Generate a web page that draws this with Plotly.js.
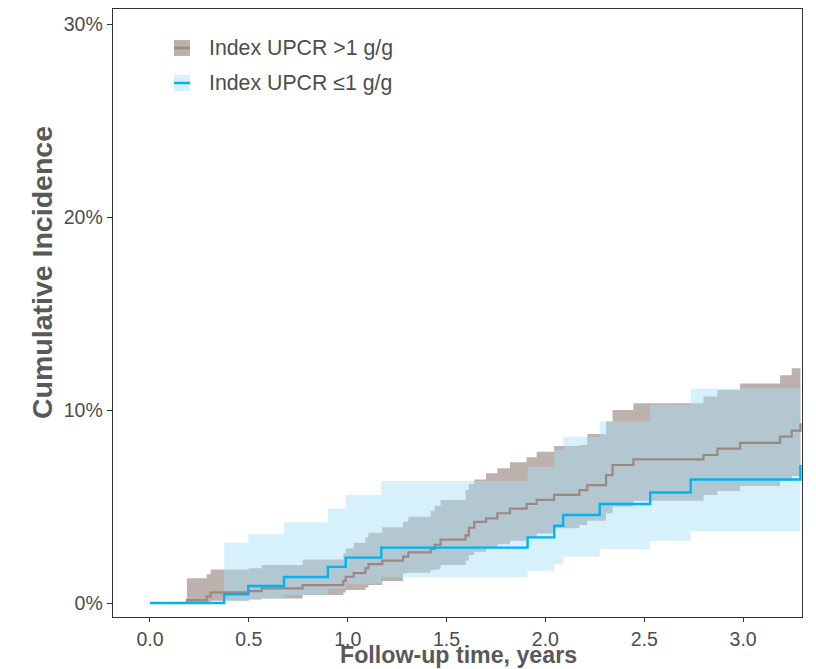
<!DOCTYPE html>
<html>
<head>
<meta charset="utf-8">
<script src="https://cdn.plot.ly/plotly-3.0.1.min.js"></script>
<style>html,body{margin:0;padding:0;background:#fff;}#chart{width:816px;height:669px;}</style>
</head>
<body>
<div id="chart"></div>
<script>
// Index UPCR <=1 g/g (blue)
const tBlue   = [0, 0.375, 0.497, 0.678, 0.90, 0.99, 1.17, 1.91, 2.045, 2.09, 2.275, 2.53, 2.735, 3.29];
const cumBlue = [0, 0.45, 0.88, 1.35, 1.87, 2.35, 2.87, 3.4, 4.0, 4.56, 5.13, 5.73, 6.4, 7.15];
const upBlue  = [0, 3.12, 3.56, 4.18, 4.9, 5.6, 6.32, 7.06, 7.93, 8.62, 9.4, 10.26, 11.12, 11.12];
const loBlue  = [0, 0.1, 0.22, 0.41, 0.76, 1.0, 1.33, 1.67, 2.02, 2.4, 2.8, 3.23, 3.7, 3.7];

// Index UPCR >1 g/g (brown)
const tBrown   = [0, 0.187, 0.287, 0.307, 0.50, 0.565, 0.772, 0.978, 0.99, 1.03, 1.09, 1.105, 1.175, 1.28, 1.307, 1.42, 1.44, 1.47, 1.596, 1.613, 1.64, 1.70, 1.757, 1.821, 1.905, 1.956, 2.044, 2.172, 2.212, 2.307, 2.34, 2.445, 2.80, 2.87, 2.985, 3.187, 3.246, 3.29];
const cumBrown = [0, 0.15, 0.33, 0.55, 0.62, 0.76, 0.93, 1.14, 1.36, 1.55, 1.8, 2.02, 2.2, 2.4, 2.62, 2.8, 3.02, 3.28, 3.5, 3.9, 4.2, 4.39, 4.65, 4.89, 5.13, 5.34, 5.6, 5.85, 6.11, 6.63, 7.15, 7.44, 7.67, 8.0, 8.3, 8.62, 8.93, 9.31];
const upBrown  = [0, 1.28, 1.49, 1.73, 1.8, 1.97, 2.26, 2.57, 2.83, 3.12, 3.4, 3.64, 3.93, 4.21, 4.47, 4.78, 5.03, 5.34, 5.85, 6.17, 6.4, 6.72, 6.98, 7.29, 7.55, 7.84, 8.13, 8.19, 8.76, 9.4, 10.0, 10.35, 10.7, 11.04, 11.38, 11.8, 12.16, 12.3];
const loBrown  = [0, 0.03, 0.06, 0.12, 0.18, 0.24, 0.41, 0.55, 0.67, 0.67, 0.8, 0.93, 1.14, 1.54, 1.57, 1.71, 1.75, 1.97, 2.2, 2.49, 2.66, 2.85, 3.04, 3.23, 3.4, 3.6, 3.87, 4.04, 4.26, 4.65, 5.0, 5.3, 5.6, 5.8, 6.06, 6.34, 6.58, 6.8];

const seriesNames = ['Index UPCR >1 g/g', 'Index UPCR \u22641 g/g'];
const xTicks = [0, 0.5, 1.0, 1.5, 2.0, 2.5, 3.0];
const xTickLabels = ['0.0', '0.5', '1.0', '1.5', '2.0', '2.5', '3.0'];
const yTicks = [0, 10, 20, 30];
const yTickLabels = ['0%', '10%', '20%', '30%'];

const brownLine = '#9b8883';
const brownFill = 'rgba(145,125,120,0.6)';
const blueLine = '#00b4f0';
const blueFill = 'rgba(166,225,248,0.46)';
const FONT = 'Liberation Sans, Arial, Helvetica, sans-serif';

const traces = [
  {x: tBrown, y: loBrown, mode: 'lines', line: {width: 0, shape: 'hv'}, hoverinfo: 'skip', showlegend: false},
  {x: tBrown, y: upBrown, mode: 'lines', line: {width: 0, shape: 'hv'}, fill: 'tonexty', fillcolor: brownFill, hoverinfo: 'skip', showlegend: false},
  {x: tBlue, y: loBlue, mode: 'lines', line: {width: 0, shape: 'hv'}, hoverinfo: 'skip', showlegend: false},
  {x: tBlue, y: upBlue, mode: 'lines', line: {width: 0, shape: 'hv'}, fill: 'tonexty', fillcolor: blueFill, hoverinfo: 'skip', showlegend: false},
  {x: tBrown, y: cumBrown, name: seriesNames[0], mode: 'lines', line: {color: brownLine, width: 2.2, shape: 'hv'}, showlegend: false},
  {x: tBlue, y: cumBlue, name: seriesNames[1], mode: 'lines', line: {color: blueLine, width: 2.4, shape: 'hv'}, showlegend: false}
];

// legend geometry (paper coords)
const L = 113, R = 802, T = 9, B = 617;
const px = v => (v - L) / (R - L);
const py = v => (B - v) / (B - T);

const shapes = [
  {type: 'rect', xref: 'paper', yref: 'paper', x0: px(174), x1: px(190), y0: py(56), y1: py(40), fillcolor: brownFill, line: {width: 0}},
  {type: 'line', xref: 'paper', yref: 'paper', x0: px(174), x1: px(190), y0: py(48), y1: py(48), line: {color: brownLine, width: 2.5}},
  {type: 'rect', xref: 'paper', yref: 'paper', x0: px(174), x1: px(190), y0: py(91), y1: py(75), fillcolor: blueFill, line: {width: 0}},
  {type: 'line', xref: 'paper', yref: 'paper', x0: px(174), x1: px(190), y0: py(83), y1: py(83), line: {color: blueLine, width: 2.5}}
];

const annotations = [
  {xref: 'paper', yref: 'paper', x: px(207), y: py(48), xanchor: 'left', yanchor: 'middle', showarrow: false, text: seriesNames[0], font: {family: FONT, size: 21.3, color: '#4d4d4d'}},
  {xref: 'paper', yref: 'paper', x: px(207), y: py(83), xanchor: 'left', yanchor: 'middle', showarrow: false, text: seriesNames[1], font: {family: FONT, size: 21.3, color: '#4d4d4d'}},
  {xref: 'paper', yref: 'paper', x: px(42), y: py(273), xanchor: 'center', yanchor: 'middle', showarrow: false, textangle: -90, text: '<b>Cumulative Incidence</b>', font: {family: FONT, size: 28.5, color: '#595959'}},
  {xref: 'paper', yref: 'paper', x: px(459), y: py(655), xanchor: 'center', yanchor: 'middle', showarrow: false, text: '<b>Follow-up time, years</b>', font: {family: FONT, size: 23.2, color: '#595959'}}
];

const layout = {
  width: 816, height: 669,
  margin: {l: 113, r: 14, t: 9, b: 52},
  paper_bgcolor: '#ffffff', plot_bgcolor: '#ffffff',
  showlegend: false,
  font: {family: FONT, color: '#4d4d4d'},
  xaxis: {
    range: [-0.187, 3.298], tickmode: 'array', tickvals: xTicks, ticktext: xTickLabels,
    ticks: 'outside', ticklen: 4, tickwidth: 1, tickcolor: '#333333',
    showline: true, mirror: true, linecolor: '#333333', linewidth: 1.3,
    showgrid: false, zeroline: false,
    tickfont: {family: FONT, size: 19.5, color: '#4d4d4d'}
  },
  yaxis: {
    range: [-0.725, 30.78], tickmode: 'array', tickvals: yTicks, ticktext: yTickLabels,
    ticks: 'outside', ticklen: 5, tickwidth: 1, tickcolor: '#333333',
    showline: true, mirror: true, linecolor: '#333333', linewidth: 1.3,
    showgrid: false, zeroline: false,
    tickfont: {family: FONT, size: 19.5, color: '#4d4d4d'}
  },
  shapes: shapes,
  annotations: annotations
};

Plotly.newPlot('chart', traces, layout, {displayModeBar: false, staticPlot: true});
</script>
</body>
</html>
